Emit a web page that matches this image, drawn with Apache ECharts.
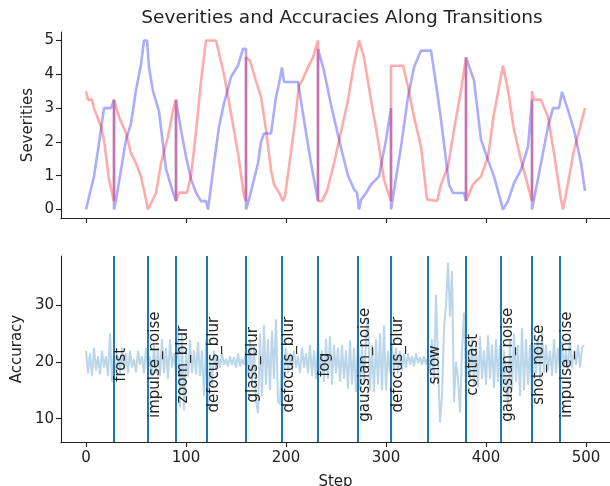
<!DOCTYPE html>
<html>
<head>
<meta charset="utf-8">
<script src="https://cdn.jsdelivr.net/npm/echarts@6/dist/echarts.min.js"></script>
<style>
  html, body { margin: 0; padding: 0; background: #fff; }
  #chart { width: 610px; height: 486px; }
</style>
</head>
<body>
<div id="chart"></div>
<script>
// severity traces, [step, severity]
var redSeverity = [
  [0, 3.5], [2, 3.25], [6, 3.25], [8, 3.0], [15, 2.45], [18, 2.06], [23, 0.88], [28, 0.25], [28, 3.25],
  [30, 3.25], [33, 2.74], [40, 2.26], [45, 1.67], [50, 1.37], [55, 0.98], [60, 0.3], [62, 0], [64, 0],
  [70, 0.49], [75, 1.37], [82, 2.16], [87, 2.94], [90, 3.25], [90, 0.25], [93, 0.5], [101, 0.5], [105, 1.0],
  [110, 2.3], [115, 3.8], [120, 5], [130, 5], [138, 4.0], [145, 2.84], [152, 1.67], [158, 0.4], [160, 0.25],
  [160, 4.5], [164, 4.4], [170, 3.8], [175, 3.33], [180, 2.35], [185, 1.18], [188, 0.74], [193, 0.5],
  [197, 0.25], [199, 0.4], [208, 2.35], [213, 3.68], [216, 3.8], [222, 4.21], [227, 4.5], [232, 5],
  [232, 0.25], [236, 0.25], [241, 0.55], [248, 1.37], [255, 2.3], [262, 3.24], [268, 4.3], [273, 5],
  [278, 4.5], [285, 3.24], [292, 2.06], [298, 0.88], [305, 0.25], [305, 4.25], [317, 4.25], [322, 3.63],
  [328, 2.74], [335, 1.86], [341, 0.3], [342, 0.25], [351, 0.25], [355, 0.74], [362, 1.27], [368, 2.35],
  [375, 3.53], [380, 4.5], [380, 0.25], [387, 0.74], [395, 0.98], [402, 1.57], [408, 2.84], [417, 4.26],
  [422, 3.53], [428, 2.35], [435, 1.47], [442, 0.69], [446, 0.25], [446, 3.5], [448, 3.25], [455, 3.25],
  [462, 2.74], [468, 1.67], [475, 0.29], [477, 0], [482, 0.78], [488, 1.76], [495, 2.55], [499, 3.0]
];
var blueSeverity = [
  [0, 0], [8, 0.98], [13, 1.96], [18, 3.0], [25, 3.0], [28, 3.25], [28, 0], [30, 0.29], [35, 1.18],
  [40, 2.06], [45, 2.55], [50, 3.53], [55, 4.3], [58, 5], [61, 5], [63, 4.2], [67, 3.5], [73, 2.9],
  [80, 1.2], [87, 0.5], [90, 0.25], [90, 3.25], [95, 2.35], [100, 1.57], [105, 0.9], [110, 0.5],
  [115, 0.25], [120, 0.25], [122, 0], [128, 1.37], [133, 2.45], [138, 3.14], [145, 3.92], [152, 4.26],
  [157, 4.75], [160, 4.75], [160, 0], [163, 0.3], [172, 1.37], [175, 2.0], [178, 2.25], [185, 2.25],
  [190, 3.33], [193, 3.72], [196, 4.2], [198, 3.77], [212, 3.77], [218, 2.65], [225, 1.37], [232, 0.25],
  [232, 4.75], [238, 4.1], [245, 3.1], [252, 2.2], [256, 1.7], [262, 1.0], [268, 0.6], [271, 0.5],
  [273, 0], [275, 0.29], [280, 0.49], [285, 0.74], [293, 0.98], [300, 2.06], [305, 3.0], [305, 0],
  [307, 0], [315, 1.86], [322, 3.33], [328, 4.21], [335, 4.7], [345, 4.7], [350, 3.72], [355, 2.65],
  [363, 0.74], [367, 0.49], [378, 0.49], [380, 0.25], [380, 4.5], [388, 3.82], [395, 2.06], [402, 1.47],
  [408, 0.98], [417, 0], [422, 0.25], [428, 0.78], [435, 1.18], [442, 1.86], [446, 3.25], [446, 0],
  [448, 0], [455, 1.37], [462, 2.45], [467, 3.0], [473, 3.0], [476, 3.48], [482, 2.94], [488, 2.35],
  [495, 1.37], [499, 0.55]
];

// accuracy, one value every 2 steps from step 0
var accuracyEvery = 2;
var accuracy = [
  22, 18, 21.5, 17.5, 22.5, 18.5, 21, 17.8, 22, 19,
  21, 17.5, 25, 16.5, 22, 18, 21, 18, 22.5, 18.5,
  21.5, 18, 22, 19, 20.5, 18.2, 22, 19.5, 21, 18,
  22.5, 18.5, 21, 17.5, 23, 18, 22.5, 17.5, 24, 18,
  22.5, 17, 24, 19, 21.5, 18, 26, 12, 25, 11.5,
  22, 17.5, 24, 18, 22, 17.8, 23.5, 17.5, 22, 14,
  24, 11.5, 21, 16, 22, 18.5, 21, 19, 21.5, 19.5,
  20.5, 19.2, 21, 19.5, 20.8, 19, 21.5, 19.2, 20.5, 19.5,
  22, 17.5, 24, 16, 23, 13, 11, 25, 14, 26.5,
  16, 24, 15, 25.5, 17, 27.5, 13, 12.5, 22, 17,
  22.5, 18, 21.5, 18.5, 22, 19, 21, 18, 22.5, 19,
  21.5, 18, 23, 17.5, 22, 17, 23.5, 18, 22, 16.5,
  24, 17, 24.5, 16, 23, 18, 22.5, 16.5, 23, 17,
  22, 15.3, 23.8, 16, 22.5, 14.7, 24, 15, 23, 16,
  24, 27.8, 15, 23, 14.7, 24, 16, 25, 15, 26.4,
  15, 22, 18, 23, 17.8, 22.5, 18, 22, 18.5, 21.5,
  19, 21.5, 19.5, 21, 19.2, 21.5, 19.8, 20.8, 19.5, 21,
  19.5, 21, 18, 24, 16, 31.8, 20, 9.4, 14, 26,
  30, 37.4, 28, 36, 12.9, 20, 17, 11.1, 22, 28.7,
  16, 22, 17, 24, 16, 23, 15.5, 24.5, 17, 22,
  16, 24.7, 17, 23, 15.4, 24, 16.5, 23, 15.5, 22,
  16, 12.4, 24, 15, 25, 16.5, 23, 14, 26, 15,
  24, 16, 23, 14.5, 23, 18, 24.5, 17, 25.6, 18,
  23, 18.5, 22, 17.5, 24, 18, 22.5, 18.5, 23.5, 19,
  22, 18.6, 24, 19, 22, 19.5, 23, 19, 22.5, 23
];

var transitionSteps = [28, 62, 90, 121, 160, 196, 232, 272, 305, 342, 380, 415, 446, 474];
var transitionNames = ["frost", "impulse_noise", "zoom_blur", "defocus_blur", "glass_blur", "defocus_blur",
  "fog", "gaussian_noise", "defocus_blur", "snow", "contrast", "gaussian_noise", "shot_noise", "impulse_noise"];

var stepTicks = [0, 100, 200, 300, 400, 500];
var severityTicks = [0, 1, 2, 3, 4, 5];
var accuracyTicks = [10, 20, 30];

var FONT = "DejaVu Sans";
var INK = "#222";

var accuracyData = accuracy.map(function (v, i) { return [i * accuracyEvery, v]; });
var labelData = transitionSteps.map(function (s, i) {
  return { value: [s, 19.5], name: transitionNames[i] };
});

function stepAxis(idx, withLabels) {
  return {
    type: "value", gridIndex: idx, min: -25, max: 524,
    name: withLabels ? "Step" : "", nameLocation: "middle", nameGap: 33, nameMoveOverlap: false,
    nameTextStyle: { fontFamily: FONT, fontSize: 15, color: INK },
    axisLine: { show: true, onZero: false, lineStyle: { color: INK, width: 1.1 } },
    axisTick: { show: true, customValues: stepTicks, length: 5, lineStyle: { color: INK, width: 1.1 } },
    axisLabel: { show: withLabels, customValues: stepTicks, margin: 9, fontFamily: FONT, fontSize: 15, color: INK },
    splitLine: { show: false }
  };
}

function valueAxis(idx, name, min, max, ticks, gap) {
  return {
    type: "value", gridIndex: idx, min: min, max: max,
    name: name, nameLocation: "middle", nameGap: gap, nameMoveOverlap: false,
    nameTextStyle: { fontFamily: FONT, fontSize: 15, color: INK },
    axisLine: { show: true, onZero: false, lineStyle: { color: INK, width: 1.1 } },
    axisTick: { show: true, customValues: ticks, length: 5, lineStyle: { color: INK, width: 1.1 } },
    axisLabel: { customValues: ticks, margin: 7, fontFamily: FONT, fontSize: 15, color: INK },
    splitLine: { show: false }
  };
}

var chart = echarts.init(document.getElementById("chart"), null, { renderer: "canvas" });
chart.setOption({
  animation: false,
  backgroundColor: "#fff",
  title: {
    text: "Severities and Accuracies Along Transitions",
    left: 337, top: 4, textAlign: "center",
    textStyle: { fontFamily: FONT, fontSize: 18.5, fontWeight: "normal", color: INK }
  },
  grid: [
    { left: 61, top: 32, right: 0, height: 186, outerBoundsMode: "none" },
    { left: 61, top: 256, right: 0, height: 186, outerBoundsMode: "none" }
  ],
  xAxis: [stepAxis(0, false), stepAxis(1, true)],
  yAxis: [
    valueAxis(0, "Severities", -0.25, 5.25, severityTicks, 25),
    valueAxis(1, "Accuracy", 5.9, 38.65, accuracyTicks, 36)
  ],
  series: [
    {
      type: "line", xAxisIndex: 0, yAxisIndex: 0, data: blueSeverity,
      showSymbol: false, lineStyle: { color: "rgba(0,0,255,0.33)", width: 2.6 }
    },
    {
      type: "line", xAxisIndex: 0, yAxisIndex: 0, data: redSeverity,
      showSymbol: false, lineStyle: { color: "rgba(255,0,0,0.33)", width: 2.6 }
    },
    {
      type: "line", xAxisIndex: 1, yAxisIndex: 1, data: accuracyData,
      showSymbol: false, lineStyle: { color: "rgba(31,119,180,0.3)", width: 2 },
      markLine: {
        silent: true, symbol: "none", label: { show: false },
        lineStyle: { type: "solid", color: "#1f77b4", width: 2 },
        data: transitionSteps.map(function (s) { return { xAxis: s }; })
      }
    },
    {
      type: "scatter", xAxisIndex: 1, yAxisIndex: 1, data: labelData,
      symbolSize: 0, silent: true, z: 5, itemStyle: { opacity: 1 },
      label: {
        show: true, formatter: "{b}", rotate: 90, position: "inside", offset: [0, 7], opacity: 1,
        fontFamily: FONT, fontSize: 15, color: INK
      }
    }
  ]
});
</script>
</body>
</html>
